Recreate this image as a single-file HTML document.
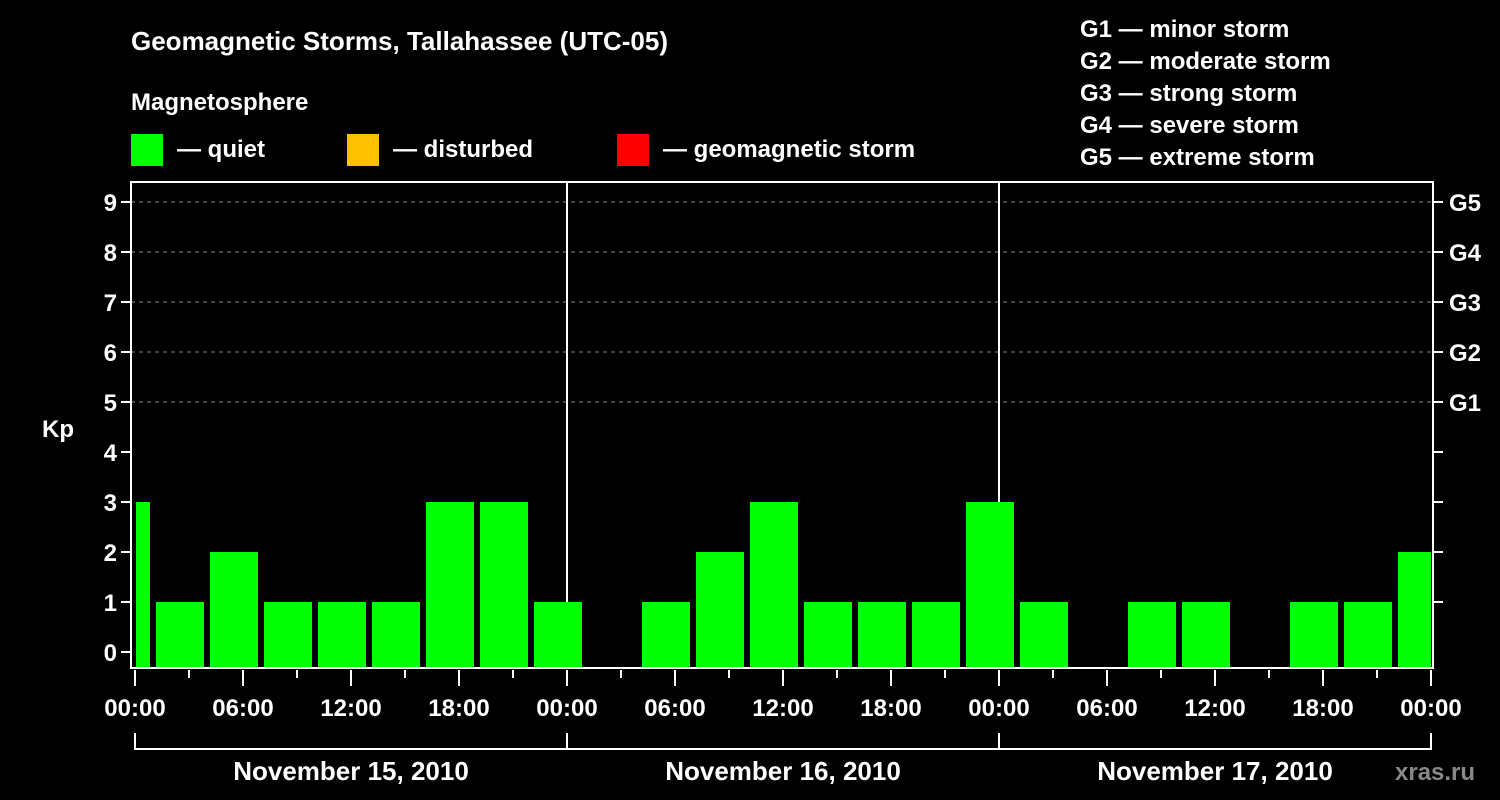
<!DOCTYPE html>
<html><head><meta charset="utf-8"><style>
html,body{margin:0;padding:0;background:#000;}
svg{display:block;font-family:"Liberation Sans",Arial,sans-serif;font-weight:bold;}
</style></head><body>
<svg id="c" width="1500" height="800" viewBox="0 0 1500 800">
<rect width="1500" height="800" fill="#000"/>
<text x="131" y="50" fill="#fff" font-size="26">Geomagnetic Storms, Tallahassee (UTC-05)</text>
<text x="131" y="110" fill="#fff" font-size="24">Magnetosphere</text>
<g><rect x="131" y="134" width="32" height="32" fill="#00ff00"/><text x="177" y="157" fill="#fff" font-size="24">— quiet</text></g>
<g><rect x="347" y="134" width="32" height="32" fill="#ffc000"/><text x="393" y="157" fill="#fff" font-size="24">— disturbed</text></g>
<g><rect x="617" y="134" width="32" height="32" fill="#ff0000"/><text x="663" y="157" fill="#fff" font-size="24">— geomagnetic storm</text></g>
<g fill="#fff" font-size="24">
<text x="1080" y="37">G1 — minor storm</text>
<text x="1080" y="69">G2 — moderate storm</text>
<text x="1080" y="101">G3 — strong storm</text>
<text x="1080" y="133">G4 — severe storm</text>
<text x="1080" y="165">G5 — extreme storm</text>
</g>
<g id="plot"></g>
<text x="1395" y="780" fill="#888" font-size="24">xras.ru</text>
</svg>
<script>
const days = ["November 15, 2010","November 16, 2010","November 17, 2010"];
const binStarts = [-2,1,4,7,10,13,16,19,22,25,28,31,34,37,40,43,46,49,52,55,58,61,64,67,70];
const kpValues = [3,1,2,1,1,1,3,3,1,0,1,2,3,1,1,1,3,1,0,1,1,0,1,1,2];
const kpTicks = [0,1,2,3,4,5,6,7,8,9];
const gLabels = ["G1","G2","G3","G4","G5"];
const hourLabels = ["00:00","06:00","12:00","18:00"];

const NS="http://www.w3.org/2000/svg";
const g=document.getElementById('plot');
const L=131,R=1433,T=182,B=668;
const xs=h=>135+h*18;
const ys=v=>652-v*50;
function mk(t,a,p){const e=document.createElementNS(NS,t);for(const k in a)e.setAttribute(k,a[k]);(p||g).appendChild(e);return e;}

// grid
for(let v=5;v<=9;v++){const l=mk('line',{x1:L,x2:R,y1:ys(v),y2:ys(v),stroke:'#888','stroke-dasharray':'4,4','stroke-width':1});

}
// day separators
for(let d=1;d<days.length;d++){const l=mk('line',{x1:xs(d*24),x2:xs(d*24),y1:T,y2:B,stroke:'#fff','stroke-width':2});

}
// bars
const maxH=days.length*24;
binStarts.forEach((h,i)=>{
  const v=kpValues[i]; if(!v) return;
  let x0=Math.max(xs(h)+3,136), x1=Math.min(xs(h+3)-3,xs(maxH));
  const col=v>=5?'#ff0000':(v>=4?'#ffc000':'#00ff00');
  const r=mk('rect',{x:x0,y:ys(v),width:x1-x0,height:B-ys(v),fill:col});
  
  
});
// frame
const f=mk('rect',{x:L,y:T,width:R-L,height:B-T,fill:'none',stroke:'#fff','stroke-width':2});


// y ticks
kpTicks.forEach(v=>{
  mk('line',{x1:L-10,x2:L,y1:ys(v),y2:ys(v),stroke:'#fff','stroke-width':2});
  if(v>0) mk('line',{x1:R,x2:R+10,y1:ys(v),y2:ys(v),stroke:'#fff','stroke-width':2});
  const t=mk('text',{x:L-14,y:ys(v)+9,fill:'#fff','font-size':24,'text-anchor':'end'});t.textContent=v;
  
  
});
gLabels.forEach((s,i)=>{const t=mk('text',{x:1449,y:ys(5+i)+9,fill:'#fff','font-size':24});t.textContent=s;
  
  });
const yt=mk('text',{x:42,y:437,fill:'#fff','font-size':24});yt.textContent='Kp';


// x ticks
for(let h=0;h<=maxH;h+=3){
  const major=h%6===0;
  mk('line',{x1:xs(h),x2:xs(h),y1:B+2,y2:B+(major?18:10),stroke:'#fff','stroke-width':2});
  if(major){const t=mk('text',{x:xs(h),y:716,fill:'#fff','font-size':24,'text-anchor':'middle'});
    t.textContent=hourLabels[(h/6)%4];
    
    }
}
// day brackets
mk('line',{x1:xs(0),x2:xs(maxH),y1:749,y2:749,stroke:'#fff','stroke-width':2});
for(let d=0;d<=days.length;d++) mk('line',{x1:xs(d*24),x2:xs(d*24),y1:733,y2:750,stroke:'#fff','stroke-width':2});
days.forEach((s,d)=>{const t=mk('text',{x:xs(d*24+12),y:780,fill:'#fff','font-size':26,'text-anchor':'middle'});t.textContent=s;
  
  });
</script>
</body></html>
